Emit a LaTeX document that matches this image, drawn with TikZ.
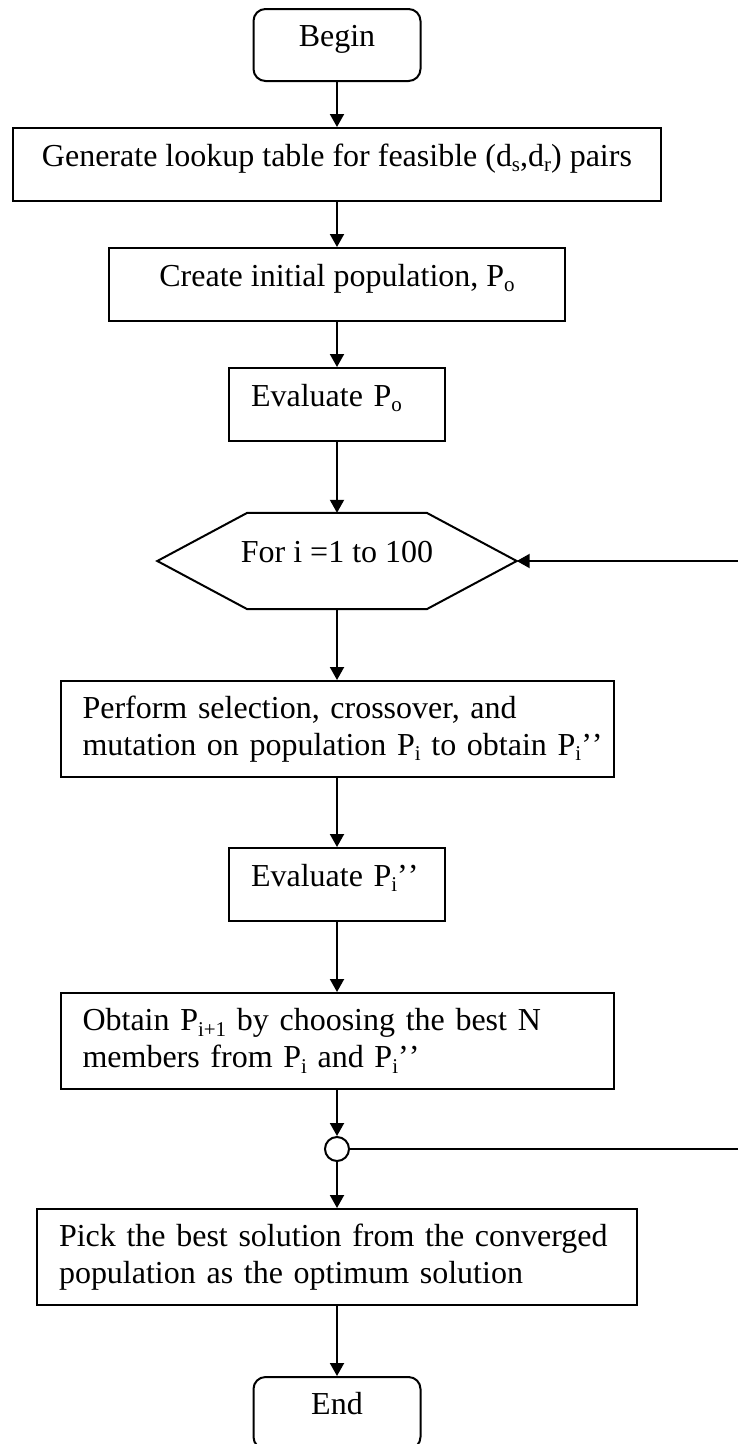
\documentclass[tikz,border=0pt]{standalone}
\usepackage{fontspec}
\setmainfont{Liberation Serif}
\usetikzlibrary{arrows.meta}
\newcommand\sbs[1]{\raisebox{-0.17em}{\fontsize{21}{21}\selectfont #1}}
\newcommand\qq{’\kern0pt’}
\begin{document}
\begin{tikzpicture}[x=1pt,y=-1pt,
  every node/.style={font=\fontsize{32}{37}\selectfont, inner sep=0pt},
  box/.style={draw, line width=2pt, rectangle, text height=0.68em, text depth=0.3em},
  roundbox/.style={box, rounded corners=12pt},
  leftbox/.style={draw, line width=2pt, rectangle, align=left, inner xsep=22pt, text height=0.68em, text depth=0.3em},
  multibox/.style={draw, line width=2pt, rectangle, align=left, inner xsep=22pt},
  conn/.style={line width=2pt},
  arr/.style={line width=2pt, -{Triangle[length=13pt,width=14pt]}},
  joint/.style={draw, line width=2pt, circle, minimum size=24pt, inner sep=0pt}
]
\useasboundingbox (0,0) rectangle (738,1444);
\node[roundbox, minimum width=167pt, minimum height=72pt] (begin) at (337,45) {Begin};
\node[box, minimum width=648pt, minimum height=73pt] (gen) at (337,164.5)
  {Generate lookup table for feasible (d\sbs{s},d\sbs{r}) pairs};
\node[box, minimum width=456pt, minimum height=73pt] (create) at (337,284.5)
  {Create initial population, P\sbs{o}};
\node[leftbox, minimum width=216pt, minimum height=73pt, text width=172pt] (evalo) at (337,404.5)
  {Evaluate P\sbs{o}};
\node[text height=0.68em, text depth=0.3em, minimum width=359pt, minimum height=96pt] (hex) at (337,561)
  {For i =1 to 100};
\draw[line width=2pt] (hex.west) -- ([xshift=90pt]hex.north west) -- ([xshift=-90pt]hex.north east)
  -- (hex.east) -- ([xshift=-90pt]hex.south east) -- ([xshift=90pt]hex.south west) -- cycle;
\node[multibox, minimum width=553pt, minimum height=96pt, text width=509pt] (perform) at (337,729)
  {\mbox{Perform selection, crossover, and}\\ \mbox{mutation on population P\sbs{i} to obtain P\sbs{i}\qq}};
\node[leftbox, minimum width=216pt, minimum height=73pt, text width=172pt] (evali) at (337,884.5)
  {Evaluate P\sbs{i}\qq};
\node[multibox, minimum width=553pt, minimum height=96pt, text width=509pt] (obtain) at (337,1041)
  {\mbox{Obtain P\sbs{i+1} by choosing the best N}\\ \mbox{members from P\sbs{i} and P\sbs{i}\qq}};
\node[joint] (join) at (337,1149) {};
\node[multibox, minimum width=600pt, minimum height=96pt, text width=556pt] (pick) at (337,1257)
  {\mbox{Pick the best solution from the converged}\\ \mbox{population as the optimum solution}};
\node[roundbox, minimum width=167pt, minimum height=72pt] (end) at (337,1413) {End};
\coordinate (fbl) at (741,1149);
\coordinate (fbu) at (741,561);
\draw[arr] (begin) -- (gen);
\draw[arr] (gen) -- (create);
\draw[arr] (create) -- (evalo);
\draw[arr] (evalo) -- (hex.north);
\draw[arr] (hex.south) -- (perform);
\draw[arr] (perform) -- (evali);
\draw[arr] (evali) -- (obtain);
\draw[arr] (obtain) -- (join);
\draw[arr] (join) -- (pick);
\draw[arr] (pick) -- (end);
\draw[conn] (join.east) -- (fbl) -- (fbu);
\draw[arr] (fbu) -- (hex.east);
\end{tikzpicture}
\end{document}
